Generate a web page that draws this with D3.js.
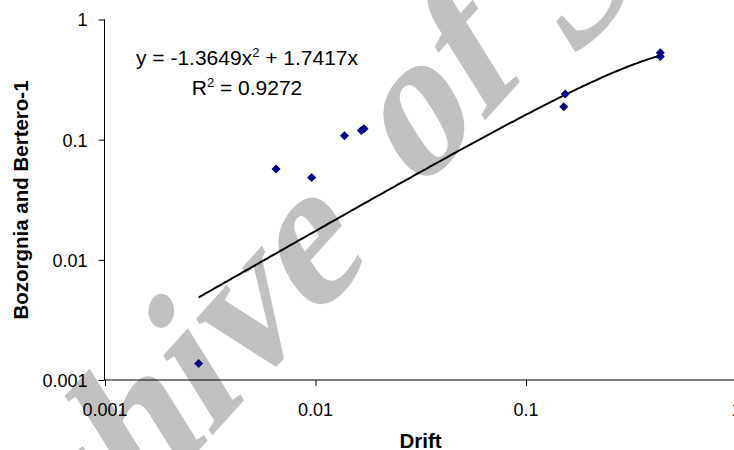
<!DOCTYPE html>
<html><head><meta charset="utf-8">
<script src="https://cdn.jsdelivr.net/npm/d3@7"></script>
<style>
body{margin:0;background:#fff;overflow:hidden}
svg{display:block}
text{font-family:Arial,"Liberation Sans",sans-serif;fill:#000}
text.wm{font-family:"Liberation Serif","DejaVu Serif",serif;font-style:normal;font-weight:bold;font-size:196px;fill:#c0c0c0}
</style>
</head><body>
<svg id="chart" width="734" height="450"></svg>
<script>
// ---- data ----
const drift = [0.0028, 0.00653, 0.00964, 0.0138, 0.0166, 0.0171, 0.1545, 0.152, 0.437, 0.437];
const bozorgniaBertero = [0.00137, 0.057, 0.0485, 0.108, 0.119, 0.123, 0.240, 0.188, 0.528, 0.491];
const xTickValues = [0.001, 0.01, 0.1, 1];
const xTickLabels = ["0.001", "0.01", "0.1", "1"];
const yTickValues = [0.001, 0.01, 0.1, 1];
const yTickLabels = ["0.001", "0.01", "0.1", "1"];
const trendA = -1.3649, trendB = 1.7417;   // y = a x^2 + b x
const rSquared = "0.9272";
const xTitle = "Drift";
const yTitle = "Bozorgnia and Bertero-1";
const watermark = ["Archive", "of", "SID"];

const svg = d3.select("#chart");
const x = d3.scaleLog().domain([0.001, 1]).range([104.5, 736]);
const y = d3.scaleLog().domain([0.001, 1]).range([380, 19.5]);

// watermark (behind everything)
const wm = svg.append("g").attr("transform", "translate(408,206) rotate(-48) skewX(-16)");
wm.append("text").attr("class", "wm").attr("x", -64).attr("y", 8).attr("text-anchor", "end").text(watermark[0]);
wm.append("text").attr("class", "wm").attr("x", 12).attr("text-anchor", "start").text(watermark[1]);
wm.append("text").attr("class", "wm").attr("x", 222).attr("y", 26).attr("text-anchor", "start").text(watermark[2]);

// axes
const yAxis = d3.axisLeft(y).tickValues(yTickValues).tickFormat((d, i) => yTickLabels[i]).tickSize(6).tickPadding(11);
const gy = svg.append("g").attr("transform", "translate(104.5,0)").call(yAxis);
const xAxis = d3.axisBottom(x).tickValues(xTickValues).tickFormat((d, i) => xTickLabels[i]).tickSize(6).tickPadding(17);
const gx = svg.append("g").attr("transform", "translate(0,380)").call(xAxis);
gy.select(".domain").attr("d", `M0,${y(1)}V${y(0.001)}`).attr("stroke", "#000");
gx.select(".domain").attr("d", `M${x(0.001)},0H734`).attr("stroke", "#000");
gx.selectAll(".tick line").attr("transform", "translate(0.5,0)");
[gx, gy].forEach(g => g.selectAll(".tick text").style("font-size", "18px").style("font-family", "Arial,'Liberation Sans',sans-serif").attr("fill", "#000"));
gy.selectAll(".tick text").attr("dy", "0.36em");

// trendline
const lo = Math.log10(d3.min(drift)), hi = Math.log10(d3.max(drift));
const xs = d3.range(0, 201).map(i => Math.pow(10, lo + i / 200 * (hi - lo)));
svg.append("path")
  .datum(xs.map(v => [v, trendA * v * v + trendB * v]))
  .attr("fill", "none").attr("stroke", "#000").attr("stroke-width", 2)
  .attr("d", d3.line().x(d => x(d[0])).y(d => y(d[1])));

// points
svg.append("g").selectAll("path").data(drift.map((d, i) => [d, bozorgniaBertero[i]]))
  .join("path")
  .attr("transform", d => `translate(${x(d[0])},${y(d[1])})`)
  .attr("d", "M0,-4.5L4.5,0L0,4.5L-4.5,0Z")
  .attr("fill", "#000080");

// equation
const eq = svg.append("text").attr("x", 247).attr("y", 64.5).attr("text-anchor", "middle").style("font-size", "21px");
eq.append("tspan").text("y = " + trendA + "x");
eq.append("tspan").attr("dy", -8).style("font-size", "13px").text("2");
eq.append("tspan").attr("dy", 8).text(" + " + trendB + "x");
const r2 = svg.append("text").attr("x", 247).attr("y", 95).attr("text-anchor", "middle").style("font-size", "21px");
r2.append("tspan").text("R");
r2.append("tspan").attr("dy", -8).style("font-size", "13px").text("2");
r2.append("tspan").attr("dy", 8).text(" = " + rSquared);

// axis titles
svg.append("text").attr("x", 420.5).attr("y", 448).attr("text-anchor", "middle")
  .style("font-size", "20.5px").style("font-weight", "bold").text(xTitle);
svg.append("text").attr("transform", "translate(27.5,200) rotate(-90)").attr("text-anchor", "middle")
  .style("font-size", "20.5px").style("font-weight", "bold").text(yTitle);
</script>
</body></html>
